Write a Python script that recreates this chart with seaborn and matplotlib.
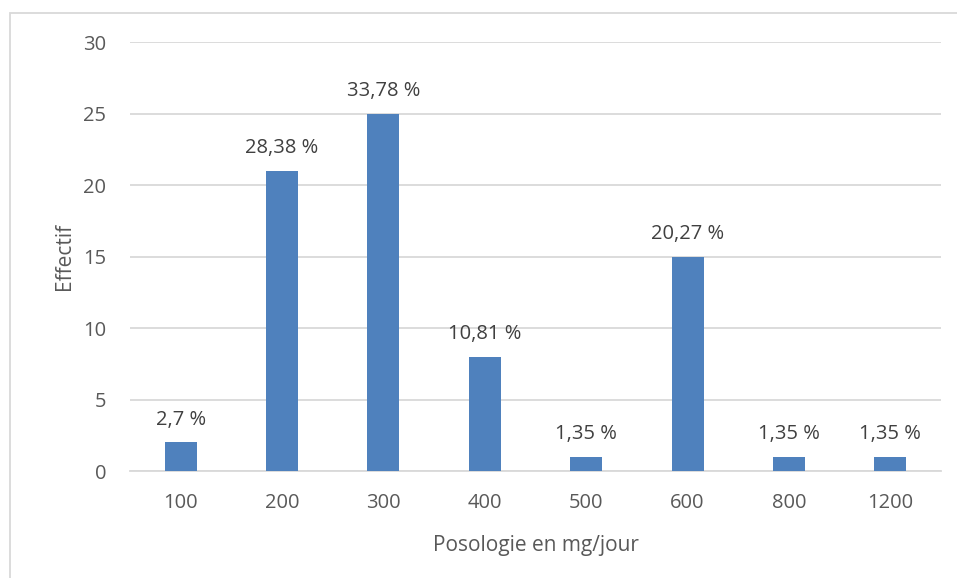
import matplotlib
matplotlib.use("Agg")
import matplotlib.pyplot as plt
from matplotlib.patches import Rectangle
import seaborn as sns
import pandas as pd

doses = ["100", "200", "300", "400", "500", "600", "800", "1200"]
effectifs = [2, 21, 25, 8, 1, 15, 1, 1]
pourcentages = ["2,7 %", "28,38 %", "33,78 %", "10,81 %", "1,35 %", "20,27 %", "1,35 %", "1,35 %"]

df = pd.DataFrame({"dose": doses, "effectif": effectifs})

sns.set_theme(style="white")
plt.rcParams["font.family"] = ["Open Sans", "DejaVu Sans"]

fig = plt.figure(figsize=(9.57, 5.78), dpi=100)
ax = fig.add_axes([0.1358, 0.1851, 0.8475, 0.7422])

sns.barplot(data=df, x="dose", y="effectif", color="#4f81bd", saturation=1,
            width=0.315, linewidth=0, ax=ax, zorder=3)

ax.set_ylim(0, 30)
ax.set_yticks(range(0, 31, 5))
ax.set_xlim(-0.5, len(doses) - 0.5)
ax.yaxis.grid(True, color="#d9d9d9", linewidth=1.3, zorder=0)
ax.set_axisbelow(True)
for side in ["top", "right", "left"]:
    ax.spines[side].set_visible(False)
ax.spines["bottom"].set_color("#d9d9d9")
ax.spines["bottom"].set_linewidth(1.3)
ax.tick_params(axis="both", length=0, labelsize=14.5, colors="#595959")
ax.tick_params(axis="y", pad=17)
ax.tick_params(axis="x", pad=16)

ax.set_xlabel("Posologie en mg/jour", fontsize=15, color="#595959", labelpad=16)
ax.set_ylabel("Effectif", fontsize=15, color="#595959", labelpad=6)

for bar, txt in zip(ax.patches, pourcentages):
    ax.annotate(txt, (bar.get_x() + bar.get_width() / 2, bar.get_height()),
                xytext=(0, 9), textcoords="offset points",
                ha="center", va="bottom", fontsize=14.5, color="#404040")

fig.patches.append(Rectangle((9.5 / 957, -0.05), 1.2, 1 - 13.5 / 578 + 0.05,
                             transform=fig.transFigure, fill=False,
                             edgecolor="#d9d9d9", linewidth=1.3))

fig.savefig("out.png", dpi=100, facecolor="white")
